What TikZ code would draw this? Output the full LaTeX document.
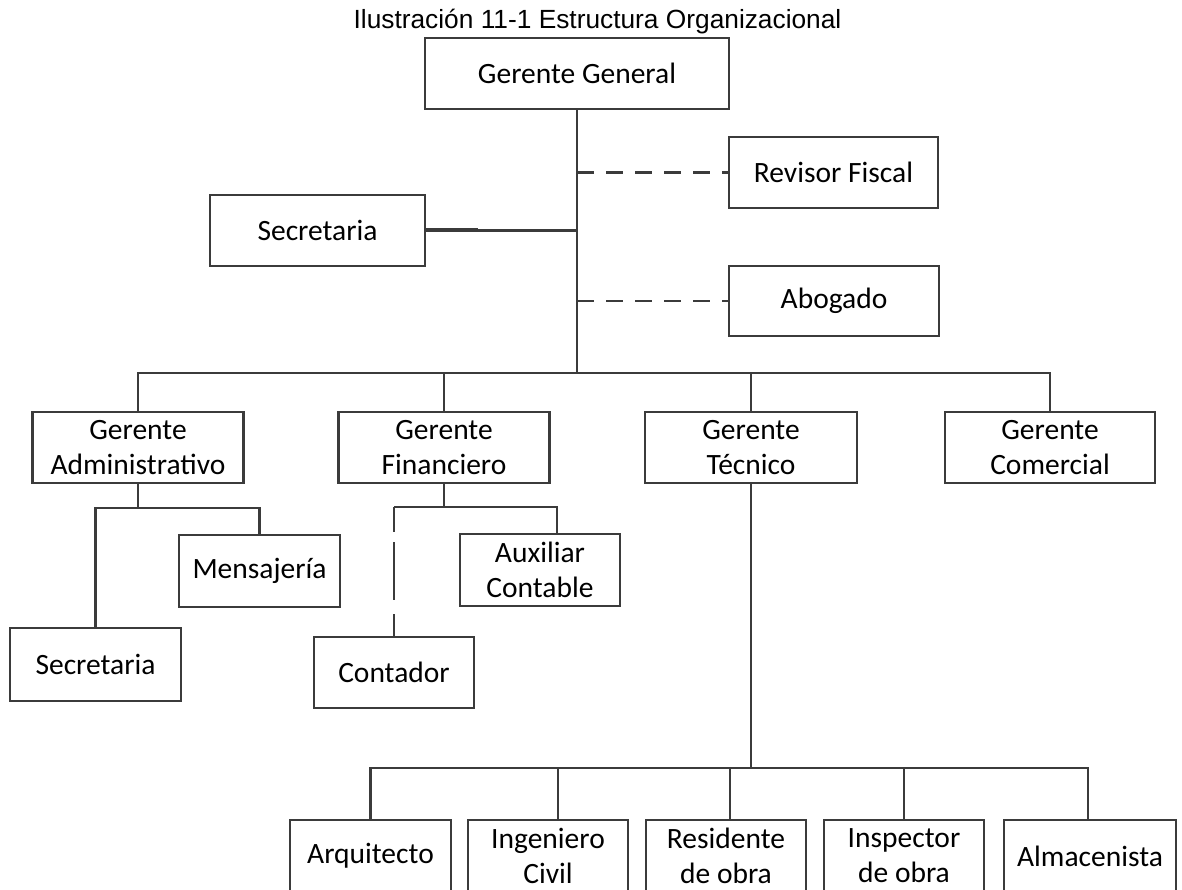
\documentclass[tikz,border=0pt]{standalone}
\usepackage{fontspec}
\setmainfont{Carlito}
\newfontfamily\titlefont{Liberation Sans}
\begin{document}
\begin{tikzpicture}[x=1pt,y=-1pt,
  link/.style={draw=black!77, line width=2.9pt},
  box/.style={draw=black!77, line width=2.9pt, rectangle, inner sep=0pt, outer sep=0pt,
              align=center, text=black, font=\fontsize{29.5}{35}\selectfont},
  dashlink/.style={link, dash pattern=on 17pt off 12pt},
  longdash/.style={link, dash pattern=on 25pt off 10pt on 58pt off 14pt},
]
\clip (0,0) rectangle (1182,890);

% title
\node[font=\titlefont\fontsize{26.3}{30}\selectfont, anchor=base] (title) at (597.5,29)
  {Ilustración 11-1 Estructura Organizacional};

% top management
\node[box, minimum width=304pt, minimum height=71pt] (gg)   at (577,73.5)   {Gerente General};
\node[box, minimum width=209pt, minimum height=71pt] (rev)  at (833.5,172.5){Revisor Fiscal};
\node[box, minimum width=215pt, minimum height=71pt] (sec1) at (317.5,230.5){Secretaria};
\node[box, minimum width=210pt, minimum height=70pt] (abo)  at (834,301)    {Abogado};

% managers
\node[box, minimum width=211pt, minimum height=71pt] (adm) at (138,447.5)   {Gerente\\Administrativo};
\node[box, minimum width=211pt, minimum height=71pt] (fin) at (444,447.5)   {Gerente\\Financiero};
\node[box, minimum width=212pt, minimum height=71pt] (tec) at (751,447.5)   {Gerente\\Técnico};
\node[box, minimum width=210pt, minimum height=71pt] (com) at (1050,447.5)  {Gerente\\Comercial};

% administrative staff
\node[box, minimum width=161pt, minimum height=72pt] (msj)  at (259.5,571) {Mensajería};
\node[box, minimum width=171pt, minimum height=73pt] (sec2) at (95.5,664.5){Secretaria};

% financial staff
\node[box, minimum width=160pt, minimum height=72pt] (aux)  at (540,570)   {Auxiliar\\Contable};
\node[box, minimum width=160pt, minimum height=71pt] (cont) at (394,672.5) {Contador};

% technical staff
\node[box, minimum width=161pt, minimum height=72pt] (arq) at (370.5,856) {Arquitecto};
\node[box, minimum width=160pt, minimum height=72pt] (ing) at (548,856)   {Ingeniero\\Civil};
\node[box, minimum width=160pt, minimum height=72pt] (res) at (726,856)   {Residente\\de obra};
\node[box, minimum width=160pt, minimum height=72pt] (ins) at (904,856)   {Inspector\\de obra};
\node[box, minimum width=172pt, minimum height=72pt] (alm) at (1090,856)  {Almacenista};

% junction points
\coordinate (bus)  at (577,373);
\coordinate (admj) at (138,508);
\coordinate (finj) at (444,507);
\coordinate (tecj) at (751,768);
\coordinate (auxj) at (557,507);
\coordinate (ingj) at (558,768);
\coordinate (resj) at (730,768);
\coordinate (almj) at (1088,768);

% trunk and staff lines of the general manager
\draw[link] (gg.south) -- (bus);
\draw[link] (sec1.east) -- (sec1.east -| bus);
\draw[draw=black!77, line width=1.6pt] ([yshift=1.6pt]sec1.east) -- ++(53,0);
\draw[dashlink] (rev.west -| bus) -- (rev.west);
\draw[dashlink] (abo.west -| bus) -- (abo.west);

% managers bus
\draw[link] (adm.north) -- (adm.north |- bus) -- (com.north |- bus) -- (com.north);
\draw[link] (fin.north |- bus) -- (fin.north);
\draw[link] (tec.north |- bus) -- (tec.north);

% administrative branch
\draw[link] (adm.south) -- (admj);
\draw[link] (sec2.north) -- (sec2.north |- admj) -- (msj.north |- admj) -- (msj.north);

% financial branch
\draw[link] (fin.south) -- (finj);
\draw[link] (cont.north |- finj) -- (auxj) -- (aux.north -| auxj);
\draw[longdash] (cont.north |- finj) -- (cont.north);

% technical branch
\draw[link] (tec.south) -- (tecj);
\draw[link] (arq.north) -- (arq.north |- tecj) -- (almj) -- (alm.north -| almj);
\draw[link] (ingj) -- (ing.north -| ingj);
\draw[link] (resj) -- (res.north -| resj);
\draw[link] (ins.north |- tecj) -- (ins.north);
\end{tikzpicture}
\end{document}
